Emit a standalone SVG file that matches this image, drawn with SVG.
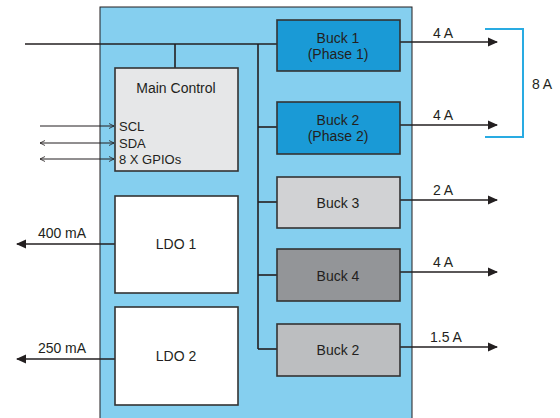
<svg xmlns="http://www.w3.org/2000/svg" width="560" height="418" viewBox="0 0 560 418">
<style>
text{font-family:"Liberation Sans",Arial,sans-serif;font-size:14px;fill:#231f20;text-anchor:middle}
.box{stroke:#333333;stroke-width:1.6}
.ln{stroke:#231f20;stroke-width:1.6;fill:none}
.thin{stroke:#231f20;stroke-width:1;fill:none}
.sm{font-size:13px;text-anchor:start}
</style>
<defs>
<marker id="ah" markerWidth="10" markerHeight="10" refX="9" refY="5" orient="auto" markerUnits="userSpaceOnUse">
<path d="M0,0.5 L10,5 L0,9.5 Z" fill="#231f20"/>
</marker>
<marker id="oh" markerWidth="6" markerHeight="6" refX="5" refY="3" orient="auto-start-reverse" markerUnits="userSpaceOnUse">
<path d="M0,0.5 L5,3 L0,5.5" fill="none" stroke="#231f20" stroke-width="0.8"/>
</marker>
</defs>
<rect x="100" y="7" width="312" height="420" fill="#85cfef" stroke="#231f20" stroke-width="1"/>
<g id="connectors">
<line class="ln" x1="25" y1="44" x2="277" y2="44" stroke-width="2"/>
<line class="ln" x1="175" y1="44" x2="175" y2="68"/>
<line class="ln" x1="258" y1="44" x2="258" y2="349"/>
<line class="ln" x1="258" y1="127" x2="277" y2="127"/>
<line class="ln" x1="258" y1="202" x2="277" y2="202"/>
<line class="ln" x1="258" y1="275" x2="277" y2="275"/>
<line class="ln" x1="258" y1="349" x2="277" y2="349"/>
<line class="thin" x1="40" y1="126" x2="114" y2="126" marker-end="url(#oh)"/>
<line class="thin" x1="40" y1="143" x2="114" y2="143" marker-start="url(#oh)" marker-end="url(#oh)"/>
<line class="thin" x1="40" y1="159" x2="114" y2="159" marker-start="url(#oh)" marker-end="url(#oh)"/>
<line class="ln" x1="400" y1="42" x2="497" y2="42" marker-end="url(#ah)"/>
<line class="ln" x1="400" y1="125" x2="497" y2="125" marker-end="url(#ah)"/>
<line class="ln" x1="400" y1="200" x2="497" y2="200" marker-end="url(#ah)"/>
<line class="ln" x1="400" y1="272" x2="497" y2="272" marker-end="url(#ah)"/>
<line class="ln" x1="400" y1="347" x2="497" y2="347" marker-end="url(#ah)"/>
<line class="ln" x1="115" y1="244" x2="17" y2="244" marker-end="url(#ah)"/>
<line class="ln" x1="115" y1="359" x2="17" y2="359" marker-end="url(#ah)"/>
<path d="M485,29 H523 V137 H485" fill="none" stroke="#29abe2" stroke-width="2"/>
<text x="443" y="38">4 A</text>
<text x="443" y="120">4 A</text>
<text x="443" y="195">2 A</text>
<text x="443" y="267">4 A</text>
<text x="446" y="342">1.5 A</text>
<text x="542" y="89" font-size="12">8 A</text>
<text x="62" y="238">400 mA</text>
<text x="62" y="353">250 mA</text>
</g>
<g id="main-control">
<rect class="box" x="115" y="68" width="123" height="103" fill="#e6e7e8"/>
<text x="176" y="93">Main Control</text>
<text class="sm" x="119" y="131">SCL</text>
<text class="sm" x="119" y="148">SDA</text>
<text class="sm" x="119" y="164">8 X GPIOs</text>
</g>
<g id="buck1">
<rect class="box" x="277" y="20" width="123" height="51" fill="#1a9ad6"/>
<text x="338" y="43">Buck 1</text>
<text x="338" y="59">(Phase 1)</text>
</g>
<g id="buck2-phase2">
<rect class="box" x="277" y="102" width="123" height="52" fill="#1a9ad6"/>
<text x="338" y="125">Buck 2</text>
<text x="338" y="141">(Phase 2)</text>
</g>
<g id="buck3">
<rect class="box" x="277" y="177" width="123" height="51" fill="#d1d2d4"/>
<text x="338" y="208">Buck 3</text>
</g>
<g id="buck4">
<rect class="box" x="277" y="249" width="123" height="52" fill="#939598"/>
<text x="338" y="281">Buck 4</text>
</g>
<g id="buck2-bottom">
<rect class="box" x="277" y="324" width="123" height="52" fill="#bcbec0"/>
<text x="338" y="355">Buck 2</text>
</g>
<g id="ldo1">
<rect class="box" x="115" y="196" width="123" height="97" fill="#ffffff"/>
<text x="176" y="249">LDO 1</text>
</g>
<g id="ldo2">
<rect class="box" x="115" y="307" width="123" height="98" fill="#ffffff"/>
<text x="176" y="361">LDO 2</text>
</g>
</svg>
